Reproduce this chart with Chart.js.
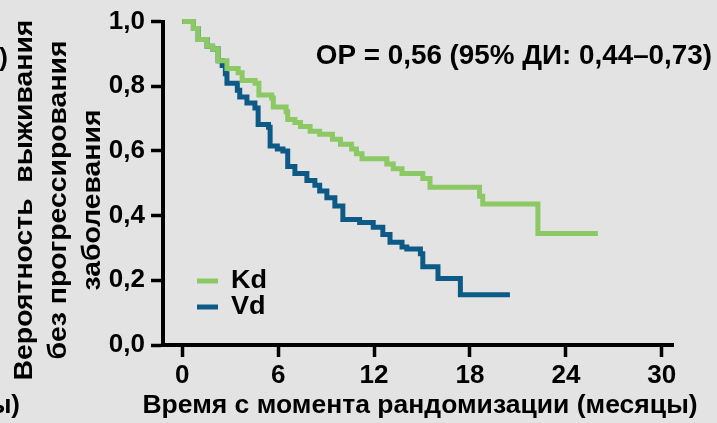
<!DOCTYPE html>
<html><head><meta charset="utf-8">
<script src="https://cdn.jsdelivr.net/npm/chart.js@4/dist/chart.umd.min.js"></script>
<style>html,body{margin:0;padding:0;background:#e3e3e3;}#wrap{width:717px;height:423px;position:relative}canvas{display:block}</style>
</head><body>
<div id="wrap"><canvas id="c" width="717" height="423"></canvas></div>
<script>
// ---- data ----
const seriesLabels = ['Kd', 'Vd'];
const kdTimes = [0,0.7,1.0,1.56,1.9,2.25,2.8,3.5,3.75,4.56,4.8,5.6,5.7,6.5,6.6,7.05,7.4,8.0,8.6,9.4,9.9,10.6,10.9,11.25,12.8,13.2,13.75,15.05,15.5,18.6,18.8,22.25,26.0];
const kdSurv  = [1.0,0.979,0.945,0.924,0.915,0.879,0.855,0.842,0.818,0.809,0.773,0.764,0.736,0.721,0.697,0.688,0.676,0.661,0.652,0.636,0.621,0.606,0.591,0.576,0.56,0.545,0.53,0.515,0.488,0.46,0.436,0.345,0.345];
const vdTimes = [0,0.7,1.0,1.56,1.9,2.25,2.5,2.7,2.8,3.45,3.6,4.05,4.55,4.75,5.4,5.5,5.95,6.3,6.6,7.05,7.8,8.3,8.6,9.05,9.55,10.05,11.1,11.95,12.55,13.0,13.75,14.05,14.9,15.05,16.0,17.4,20.5];
const vdSurv  = [1.0,0.979,0.945,0.924,0.915,0.879,0.864,0.839,0.809,0.788,0.767,0.748,0.733,0.682,0.673,0.615,0.606,0.600,0.552,0.530,0.509,0.494,0.476,0.455,0.430,0.388,0.379,0.364,0.342,0.318,0.303,0.297,0.282,0.242,0.206,0.155,0.155];
const xTickValues = [0, 6, 12, 18, 24, 30];
const yTickValues = [0, 0.2, 0.4, 0.6, 0.8, 1.0];
const yTitleLines = ['Вероятность  выживания', 'без прогрессирования', 'заболевания'];
const xTitle = 'Время с момента рандомизации (месяцы)';
const hrText = 'ОР = 0,56 (95% ДИ: 0,44–0,73)';
const cutTextTop = ')';
const cutTextBottom = 'ы)';

// ---- styles ----
const GREEN = '#8cc864';
const BLUE = '#0d5a86';
const BG = '#e3e3e3';
const FONT = '"Liberation Sans", Arial, Helvetica, sans-serif';

function toPoints(ts, ss) { return ts.map((t, i) => ({ x: t, y: ss[i] })); }

function stretchedText(ctx, text, x, y, sx) {
  ctx.save();
  ctx.translate(x, y);
  ctx.scale(sx, 1);
  ctx.fillText(text, 0, 0);
  ctx.restore();
}

const decor = {
  id: 'decor',
  beforeDraw(chart) {
    const ctx = chart.ctx;
    ctx.save();
    ctx.fillStyle = BG;
    ctx.fillRect(0, 0, chart.width, chart.height);
    ctx.restore();
  },
  afterDraw(chart) {
    const ctx = chart.ctx;
    ctx.save();
    ctx.fillStyle = '#000';
    // y title (rotated, three lines)
    ctx.font = 'bold 26px ' + FONT;
    ctx.textAlign = 'center';
    ctx.textBaseline = 'alphabetic';
    const baselines = [32, 66, 100];
    yTitleLines.forEach((line, i) => {
      ctx.save();
      ctx.translate(baselines[i], 200);
      ctx.rotate(-Math.PI / 2);
      ctx.scale(1.09, 1);
      ctx.fillText(line, 0, 0);
      ctx.restore();
    });
    // x title
    ctx.font = 'bold 26px ' + FONT;
    ctx.textAlign = 'center';
    stretchedText(ctx, xTitle, 420, 413, 1.02);
    // HR annotation
    ctx.font = 'bold 27px ' + FONT;
    ctx.textAlign = 'right';
    stretchedText(ctx, hrText, 712, 64, 1.03);
    // cut-off remnants of neighbouring panel
    ctx.font = 'bold 26px ' + FONT;
    ctx.textAlign = 'right';
    ctx.fillText(cutTextTop, 8, 66);
    ctx.fillText(cutTextBottom, 20, 413);
    // legend
    const ds = chart.data.datasets;
    const rows = [281, 307];
    ds.forEach((d, i) => {
      ctx.strokeStyle = d.borderColor;
      ctx.lineWidth = 5;
      ctx.beginPath();
      ctx.moveTo(197, rows[i]);
      ctx.lineTo(218, rows[i]);
      ctx.stroke();
      ctx.fillStyle = '#000';
      ctx.font = 'bold 26px ' + FONT;
      ctx.textAlign = 'left';
      ctx.textBaseline = 'middle';
      stretchedText(ctx, d.label, 231, rows[i], 1.04);
    });
    ctx.restore();
  }
};

const tickFont = { family: FONT, size: 26, weight: 'bold' };

new Chart(document.getElementById('c'), {
  type: 'line',
  data: {
    datasets: [
      { label: seriesLabels[0], data: toPoints(kdTimes, kdSurv), borderColor: GREEN, backgroundColor: GREEN,
        borderWidth: 5, pointRadius: 0, stepped: true, fill: false, clip: false },
      { label: seriesLabels[1], data: toPoints(vdTimes, vdSurv), borderColor: BLUE, backgroundColor: BLUE,
        borderWidth: 5, pointRadius: 0, stepped: true, fill: false, clip: false }
    ]
  },
  options: {
    responsive: false,
    animation: false,
    events: [],
    layout: { padding: { top: 15, right: 44, left: 0, bottom: 0 } },
    plugins: { legend: { display: false }, tooltip: { enabled: false } },
    scales: {
      x: {
        type: 'linear', min: -1.2, max: 30.7,
        afterBuildTicks: s => { s.ticks = xTickValues.map(v => ({ value: v })); },
        afterFit: s => { s.height = 78; },
        ticks: { font: tickFont, color: '#000', padding: 3, maxRotation: 0, autoSkip: false,
                 callback: v => String(v) },
        grid: { drawOnChartArea: false, drawTicks: true, tickLength: 12, tickWidth: 3.5, tickColor: '#000', color: '#000' },
        border: { display: true, width: 4, color: '#000' }
      },
      y: {
        type: 'linear', min: 0, max: 1,
        afterBuildTicks: s => { s.ticks = yTickValues.map(v => ({ value: v })); },
        afterFit: s => { s.width = 163; },
        ticks: { font: tickFont, color: '#000', padding: 6, autoSkip: false,
                 callback: v => v.toFixed(1).replace('.', ',') },
        grid: { drawOnChartArea: false, drawTicks: true, tickLength: 12, tickWidth: 3.5, tickColor: '#000', color: '#000' },
        border: { display: true, width: 4, color: '#000' }
      }
    }
  },
  plugins: [decor]
});
</script>
</body></html>
